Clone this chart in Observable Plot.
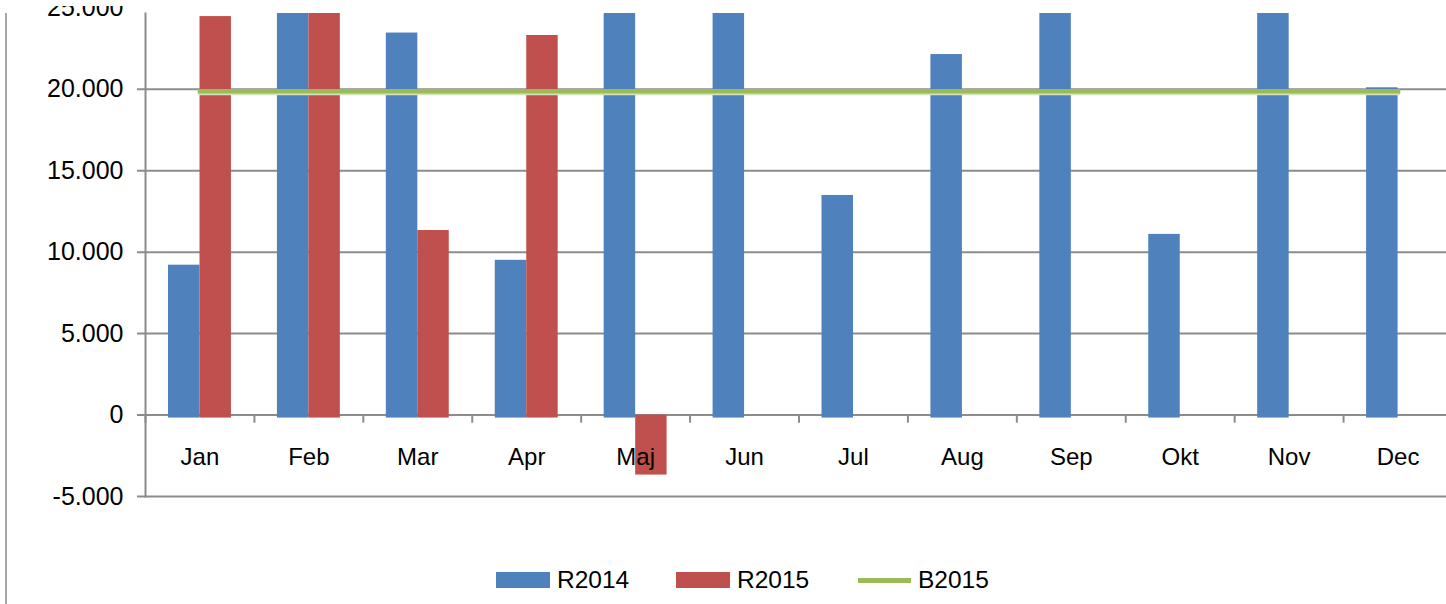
<!DOCTYPE html>
<html>
<head>
<meta charset="utf-8">
<script src="https://cdn.jsdelivr.net/npm/d3@7"></script>
<script src="https://cdn.jsdelivr.net/npm/@observablehq/plot@0.6"></script>
<style>
  html, body { margin: 0; padding: 0; background: #fff; overflow: hidden; }
  #wrap { position: relative; width: 1446px; height: 604px; overflow: hidden; font-family: "Liberation Sans", Arial, sans-serif; }
  #leftline { position: absolute; left: 5px; top: 13px; width: 2px; height: 591px; background: #a6a6a6; z-index: 2; }
  #topmask { position: absolute; left: 0; top: 0; width: 1446px; height: 6px; background: #fff; z-index: 3; }
  #chart { position: absolute; left: 0; top: 0; }
  #chart svg { max-width: none !important; }
  #legend { position: absolute; top: 566px; left: 0; width: 1446px; height: 30px; font-size: 24.5px; color: #000; }
  .item { position: absolute; top: 0; display: flex; align-items: center; height: 28px; }
  .sw { width: 54px; height: 16px; margin-right: 7px; }
  .ln { width: 53px; height: 5px; margin-right: 7px; }
</style>
</head>
<body>
<div id="wrap">
  <div id="leftline"></div>
  <div id="chart"></div>
  <div id="topmask"></div>
  <div id="legend"></div>
</div>
<script>
const months = ["Jan","Feb","Mar","Apr","Maj","Jun","Jul","Aug","Sep","Okt","Nov","Dec"];
const r2014 = [9200, 27000, 23450, 9500, 27000, 27000, 13480, 22130, 27000, 11090, 27000, 20090];
const r2015 = [24460, 26500, 11330, 23300, -3500, null, null, null, null, null, null, null];
const b2015 = [19880, 19880, 19880, 19880, 19880, 19880, 19880, 19880, 19880, 19880, 19880, 19880];
const yLabelTicks = [-5000, 0, 5000, 10000, 15000, 20000, 25000];
const gridTicks = [-5000, 0, 5000, 10000, 15000, 20000];
const seriesNames = ["R2014", "R2015", "B2015"];
const colors = {R2014: "#4F81BD", R2015: "#C0504D", B2015: "#9BBB59"};

const d2014 = months.map((m, i) => ({month: m, value: r2014[i]}));
const d2015 = months.map((m, i) => ({month: m, value: r2015[i]})).filter(d => d.value != null);
const dB = months.map((m, i) => ({month: m, value: b2015[i]}));

const loc = d3.formatLocale({decimal: ",", thousands: ".", grouping: [3], currency: ["", ""], minus: "-"});
const fmt = loc.format(",");

const marginLeft = 145, marginRight = 8, width = 1460;
const bw = (width - marginLeft - marginRight) / months.length;
const grey = "#8c8c8c";

const chart = Plot.plot({
  width,
  height: 527,
  marginTop: 13,
  marginBottom: 31,
  marginLeft,
  marginRight,
  style: {fontFamily: "'Liberation Sans', Arial, sans-serif", fontSize: "24px", color: "#000", background: "transparent", overflow: "visible", maxWidth: "none"},
  x: {domain: months, padding: 0, round: false, axis: null},
  y: {domain: [-5000, 24650], axis: null, label: null},
  marks: [
    Plot.gridY(gridTicks, {stroke: grey, strokeOpacity: 1, strokeWidth: 2, insetLeft: -8}),
    Plot.barY(d2014, {x: "month", y: "value", fill: colors.R2014, insetLeft: 23, insetRight: bw - 54.5, insetBottom: -3, clip: true}),
    Plot.barY(d2015, {x: "month", y: "value", fill: colors.R2015, insetLeft: 54.5, insetRight: 23, insetBottom: -3, clip: true}),
    Plot.ruleX(months, {x: d => d, dx: -bw / 2, y1: 0, y2: -500, stroke: grey, strokeWidth: 2}),
    Plot.frame({anchor: "left", stroke: grey, strokeWidth: 2}),
    Plot.lineY(dB, {x: "month", y: "value", stroke: "#d3e3b9", strokeWidth: 4, dy: 2, strokeLinecap: "square"}),
    Plot.lineY(dB, {x: "month", y: "value", stroke: colors.B2015, strokeWidth: 4.5, strokeLinecap: "square"}),
    Plot.axisY(yLabelTicks, {tickSize: 0, tickPadding: 22, tickFormat: fmt, fontSize: 25, fill: "#000", label: null}),
    Plot.text(months, {x: d => d, y: 0, dy: 42, text: d => d, fontSize: 24, fill: "#000", lineAnchor: "middle"})
  ]
});
document.getElementById("chart").appendChild(chart);

const legend = document.getElementById("legend");
const pos = [496, 676, 858];
seriesNames.forEach((s, i) => {
  const it = document.createElement("div");
  it.className = "item";
  it.style.left = pos[i] + "px";
  const sw = document.createElement("div");
  sw.className = s === "B2015" ? "ln" : "sw";
  sw.style.background = colors[s];
  const t = document.createElement("span");
  t.textContent = s;
  it.appendChild(sw);
  it.appendChild(t);
  legend.appendChild(it);
});
</script>
</body>
</html>
